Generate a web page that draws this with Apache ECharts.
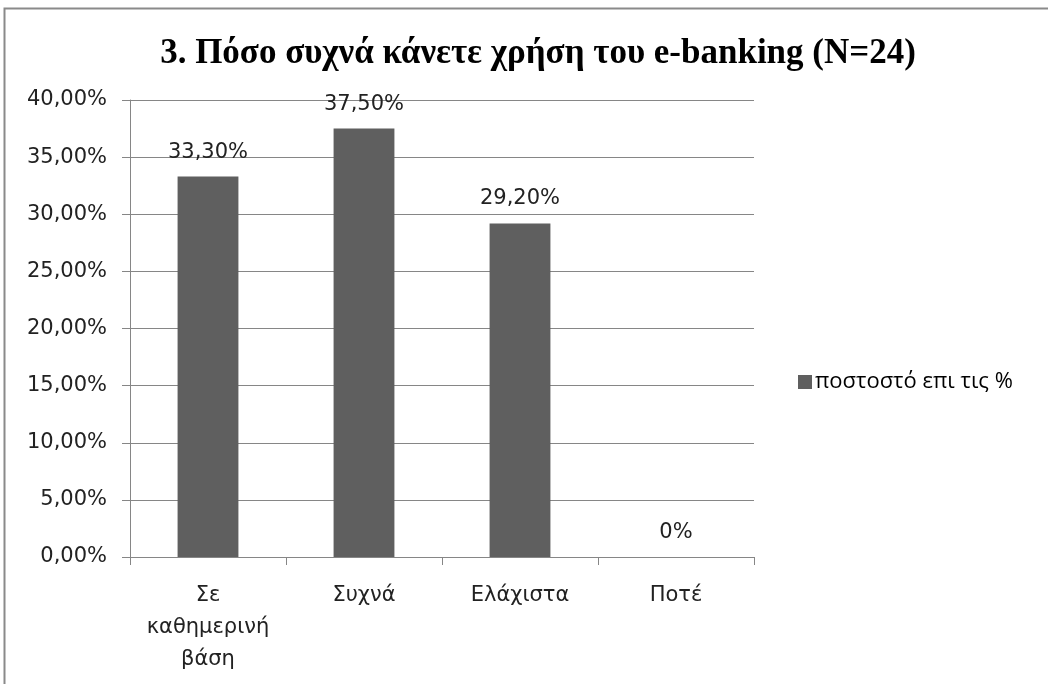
<!DOCTYPE html>
<html>
<head>
<meta charset="utf-8">
<script src="https://cdn.jsdelivr.net/npm/echarts@6/dist/echarts.min.js"></script>
<style>
  html, body { margin: 0; padding: 0; background: #fff; }
  #chart { width: 1048px; height: 684px; }
</style>
</head>
<body>
<div id="chart"></div>
<script>
// data
const categories = ['Σε\nκαθημερινή\nβάση', 'Συχνά', 'Ελάχιστα', 'Ποτέ'];
const percentValues = [33.3, 37.5, 29.2, 0];
const seriesName = 'ποστοστό επι τις %';
const titleText = '3. Πόσο συχνά κάνετε χρήση του e-banking (N=24)';

const fmtPct = (v) => (v === 0 ? '0%' : v.toFixed(2).replace('.', ',') + '%');

let chart = echarts.init(document.getElementById('chart'));
let option = {
  animation: false,
  backgroundColor: '#fff',
  graphic: [
    {
      type: 'rect',
      shape: { x: 4.5, y: 8.5, width: 1100, height: 700 },
      style: { fill: 'none', stroke: '#8a8a8a', lineWidth: 2 },
      silent: true,
    },
  ],
  title: {
    text: titleText,
    left: 533,
    textAlign: 'center',
    top: 31,
    textStyle: {
      fontFamily: 'Liberation Serif',
      fontWeight: 'bold',
      fontSize: 35,
      color: '#000',
    },
  },
  legend: {
    data: [seriesName],
    left: 793,
    top: 366,
    itemWidth: 14,
    itemHeight: 14,
    itemGap: 4,
    icon: 'rect',
    textStyle: {
      fontFamily: 'Open Sans',
      fontSize: 22,
      color: '#000',
      padding: [0, 0, 0, -2],
    },
  },
  grid: {
    left: 130,
    right: 294,
    top: 100,
    bottom: 127,
    containLabel: false,
  },
  xAxis: {
    type: 'category',
    data: categories,
    axisLine: { lineStyle: { color: '#868686', width: 1 } },
    axisTick: { show: true, alignWithLabel: false, length: 8, lineStyle: { color: '#868686' } },
    axisLabel: {
      color: '#222',
      fontFamily: 'DejaVu Sans',
      fontSize: 21,
      lineHeight: 32,
      margin: 23,
      interval: 0,
    },
  },
  yAxis: {
    type: 'value',
    min: 0,
    max: 40,
    interval: 5,
    axisLine: { show: true, lineStyle: { color: '#868686', width: 1 } },
    axisTick: { show: true, length: 8, lineStyle: { color: '#868686' } },
    splitLine: { lineStyle: { color: '#868686', width: 1 } },
    axisLabel: {
      color: '#222',
      fontFamily: 'DejaVu Sans',
      fontSize: 21,
      margin: 23,
      formatter: (v) => v.toFixed(2).replace('.', ',') + '%',
    },
  },
  series: [
    {
      name: seriesName,
      type: 'bar',
      data: percentValues,
      barWidth: '39%',
      itemStyle: { color: '#5f5f5f' },
      label: {
        show: true,
        position: 'top',
        distance: 14,
        color: '#222',
        fontFamily: 'DejaVu Sans',
        fontSize: 21,
        formatter: (p) => fmtPct(p.value),
      },
    },
  ],
};
option && chart.setOption(option);
</script>
</body>
</html>
